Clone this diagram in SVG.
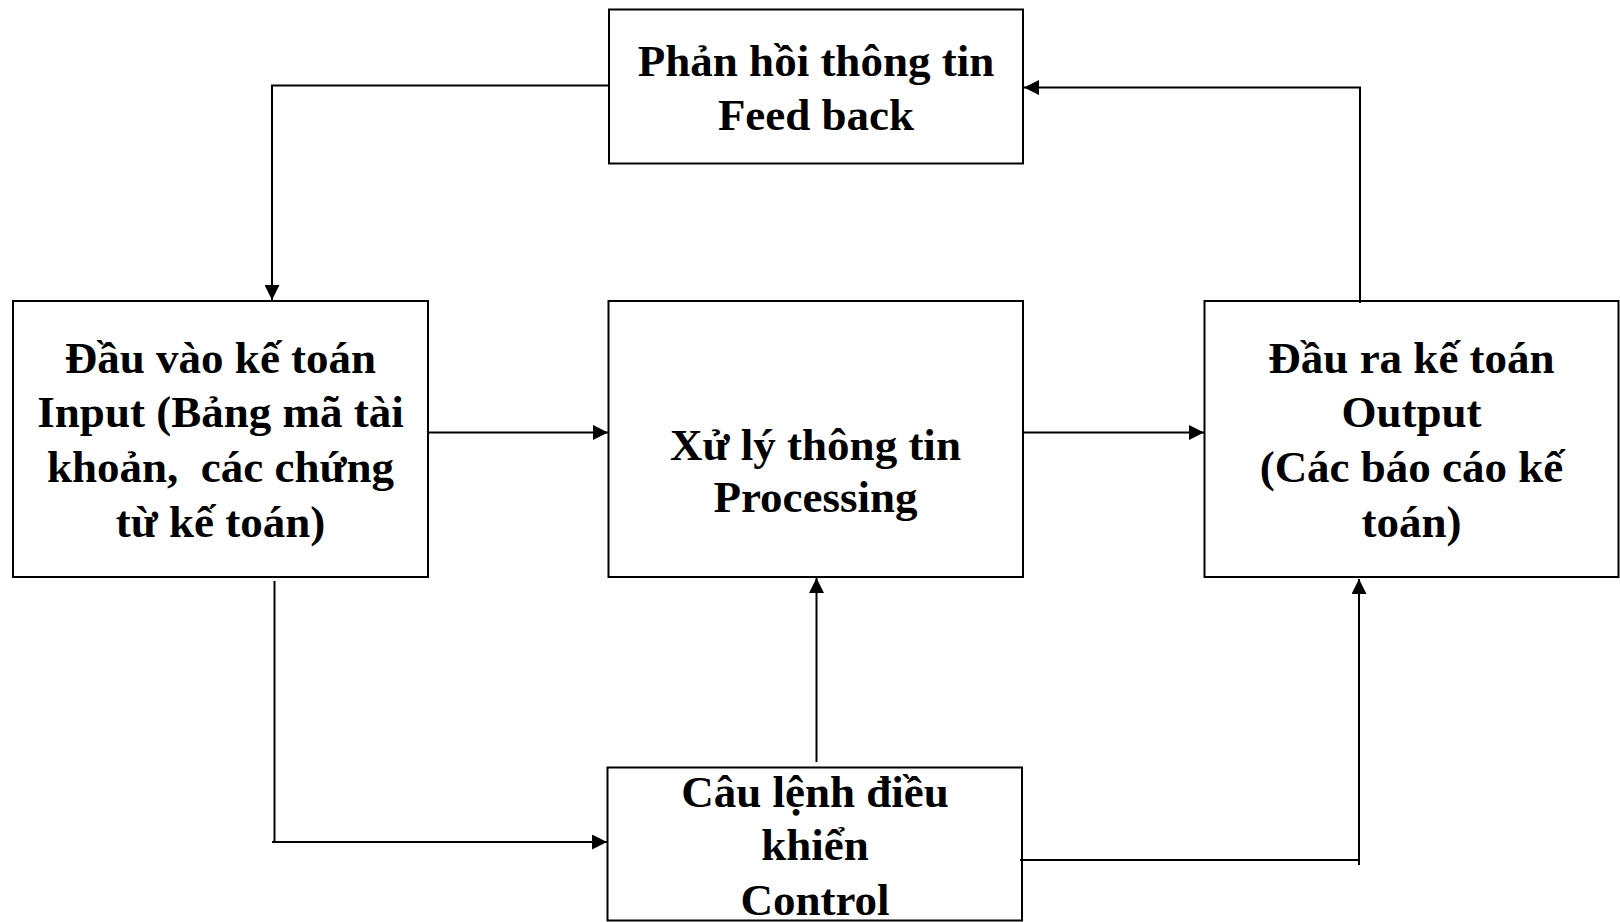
<svg xmlns="http://www.w3.org/2000/svg" width="1620" height="922" viewBox="0 0 1620 922">
  <style>
    .box { fill: #ffffff; stroke: #000000; stroke-width: 2; }
    .lbl { font-family: "Liberation Serif", "Times New Roman", serif; font-weight: bold; font-size: 45px; fill: #000000; text-anchor: middle; }
    .wire { fill: none; stroke: #000000; stroke-width: 2; }
  </style>
  <defs>
    <marker id="ah" viewBox="0 0 15 15" refX="15" refY="7.5" markerWidth="15" markerHeight="15" markerUnits="userSpaceOnUse" orient="auto">
      <path d="M0,0 L15,7.5 L0,15 z" fill="#000000"/>
    </marker>
  </defs>
  <rect width="1620" height="922" fill="#ffffff"/>

  <g id="feedback">
    <rect class="box" x="609" y="9.5" width="414" height="154"/>
    <text class="lbl" x="816" y="76">Phản hồi thông tin</text>
    <text class="lbl" x="816" y="130">Feed back</text>
  </g>

  <g id="input">
    <rect class="box" x="13" y="301" width="415" height="276"/>
    <text class="lbl" x="220.5" y="373">Đầu vào kế toán</text>
    <text class="lbl" x="220.5" y="427">Input (Bảng mã tài</text>
    <text class="lbl" x="220.5" y="482">khoản, &#160;các chứng</text>
    <text class="lbl" x="220.5" y="537">từ kế toán)</text>
  </g>

  <g id="processing">
    <rect class="box" x="608.5" y="301" width="414.5" height="276"/>
    <text class="lbl" x="815.5" y="460">Xử lý thông tin</text>
    <text class="lbl" x="815.5" y="512">Processing</text>
  </g>

  <g id="output">
    <rect class="box" x="1204.5" y="301" width="414" height="276"/>
    <text class="lbl" x="1411.5" y="373">Đầu ra kế toán</text>
    <text class="lbl" x="1411.5" y="427">Output</text>
    <text class="lbl" x="1411.5" y="482">(Các báo cáo kế</text>
    <text class="lbl" x="1411.5" y="537">toán)</text>
  </g>

  <g id="control">
    <rect class="box" x="607.5" y="767.5" width="414.5" height="153"/>
    <text class="lbl" x="815" y="807">Câu lệnh điều</text>
    <text class="lbl" x="815" y="860">khiển</text>
    <text class="lbl" x="815" y="915">Control</text>
  </g>

  <g id="connectors">
    <!-- feedback back to input -->
    <path class="wire" d="M609,85.5 H272 V300" marker-end="url(#ah)"/>
    <!-- input to processing -->
    <path class="wire" d="M428,432.5 H608" marker-end="url(#ah)"/>
    <!-- processing to output -->
    <path class="wire" d="M1023,432.5 H1204" marker-end="url(#ah)"/>
    <!-- output up to feedback -->
    <path class="wire" d="M1360,303 V87.5 H1024" marker-end="url(#ah)"/>
    <!-- input down to control -->
    <path class="wire" d="M274.5,581 V842"/>
    <path class="wire" d="M272,842 H607" marker-end="url(#ah)"/>
    <!-- control up to processing -->
    <path class="wire" d="M816.5,762 V578" marker-end="url(#ah)"/>
    <!-- control across and up to output -->
    <path class="wire" d="M1020,860 H1359"/>
    <path class="wire" d="M1359,865 V579" marker-end="url(#ah)"/>
  </g>
</svg>
